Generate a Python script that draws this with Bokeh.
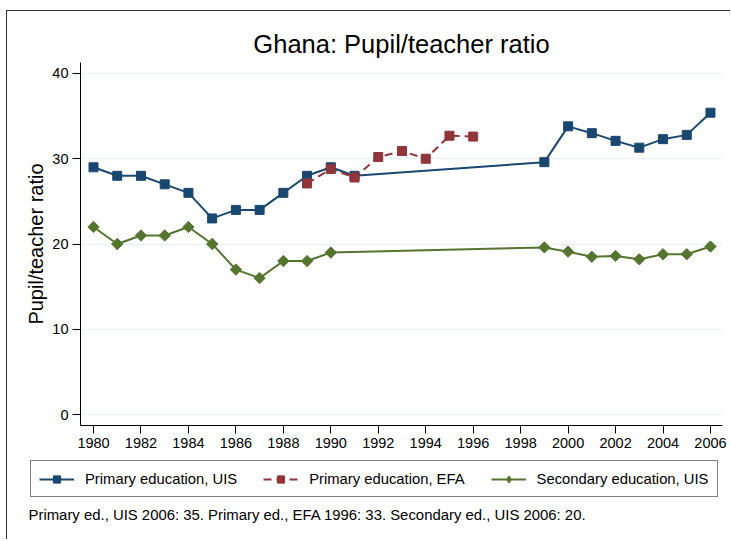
import numpy as np
from bokeh.plotting import figure
from bokeh.models import Range1d, FixedTicker, Legend, LegendItem, Label
from bokeh.embed import file_html
from bokeh.resources import INLINE

# ---- data ----
years_uis = [1980, 1981, 1982, 1983, 1984, 1985, 1986, 1987, 1988, 1989, 1990, 1991,
             1999, 2000, 2001, 2002, 2003, 2004, 2005, 2006]
primary_uis = [29, 28, 28, 27, 26, 23, 24, 24, 26, 28, 29, 28,
               29.6, 33.8, 33.0, 32.1, 31.3, 32.3, 32.8, 35.4]

years_efa = [1989, 1990, 1991, 1992, 1993, 1994, 1995, 1996]
primary_efa = [27.1, 28.8, 27.8, 30.2, 30.9, 30.0, 32.7, 32.6]

years_sec = [1980, 1981, 1982, 1983, 1984, 1985, 1986, 1987, 1988, 1989, 1990,
             1999, 2000, 2001, 2002, 2003, 2004, 2005, 2006]
secondary_uis = [22, 20, 21, 21, 22, 20, 17, 16, 18, 18, 19,
                 19.6, 19.1, 18.5, 18.6, 18.2, 18.8, 18.8, 19.7]

x_ticks = list(range(1980, 2007, 2))
y_ticks = [0, 10, 20, 30, 40]

series_labels = ["Primary education, UIS", "Primary education, EFA", "Secondary education, UIS"]
title_text = "Ghana: Pupil/teacher ratio"
y_label = "Pupil/teacher ratio"
note_text = "Primary ed., UIS 2006: 35. Primary ed., EFA 1996: 33. Secondary ed., UIS 2006: 20."

FONT = "Liberation Sans"
BLUE = "#1a476f"
RED = "#90353b"
GREEN = "#55752f"
BORDER = "1px solid #333333"

# ---- main chart ----
p = figure(width=724, height=447, output_backend="svg", toolbar_location=None,
           x_range=Range1d(1979.452, 2006.506), y_range=Range1d(-1.29, 41.29),
           min_border_left=73, min_border_right=9, min_border_top=51, min_border_bottom=33,
           background_fill_color="white", border_fill_color="white")
p.outline_line_color = None
p.styles = {"margin-left": "6px", "margin-top": "10px",
            "border-left": BORDER, "border-top": BORDER}

p.title.text = title_text
p.title.align = "center"
p.title.text_font = FONT
p.title.text_font_size = "25.5px"
p.title.text_font_style = "normal"
p.title.text_color = "#000000"
p.title.standoff = 10

p.xaxis.ticker = FixedTicker(ticks=x_ticks)
p.yaxis.ticker = FixedTicker(ticks=y_ticks)
for ax in (p.xaxis[0], p.yaxis[0]):
    ax.axis_line_color = "#000000"
    ax.axis_line_width = 1
    ax.major_tick_line_color = "#000000"
    ax.major_tick_in = 0
    ax.major_tick_out = 8
    ax.minor_tick_line_color = None
    ax.major_label_text_font = FONT
    ax.major_label_text_font_size = "14.5px"
    ax.major_label_text_color = "#000000"
    ax.major_label_standoff = 4
p.yaxis.axis_label = y_label
p.yaxis.axis_label_text_font = FONT
p.yaxis.axis_label_text_font_size = "20px"
p.yaxis.axis_label_text_font_style = "normal"
p.yaxis.axis_label_text_color = "#000000"
p.yaxis.axis_label_standoff = 2
p.yaxis.major_label_orientation = "horizontal"

p.xgrid.grid_line_color = None
p.ygrid.grid_line_color = "#eaf2f3"
p.ygrid.grid_line_width = 1.5

p.line(years_uis, primary_uis, line_color=BLUE, line_width=2)
p.scatter(years_uis, primary_uis, marker="square", size=9, fill_color=BLUE, line_color=BLUE)
p.line(years_efa, primary_efa, line_color=RED, line_width=2, line_dash="8 5")
p.scatter(years_efa, primary_efa, marker="square", size=9, fill_color=RED, line_color=RED)
p.line(years_sec, secondary_uis, line_color=GREEN, line_width=2)
p.scatter(years_sec, secondary_uis, marker="square", angle=np.pi / 4, size=8,
          fill_color=GREEN, line_color=GREEN)

# ---- legend + note strip (separate root, frame = whole canvas) ----
q = figure(width=724, height=82, output_backend="svg", toolbar_location=None,
           x_axis_type=None, y_axis_type=None,
           x_range=Range1d(0, 1), y_range=Range1d(0, 1),
           min_border_left=0, min_border_right=0, min_border_top=0, min_border_bottom=0,
           background_fill_color="white", border_fill_color="white")
q.outline_line_color = None
q.grid.visible = False
q.styles = {"margin-left": "6px", "border-left": BORDER}

# legend key renderers (same series; the strip's ranges keep them out of view)
kl1 = q.line(years_uis, primary_uis, line_color=BLUE, line_width=2)
ks1 = q.scatter(years_uis, primary_uis, marker="square", size=9, fill_color=BLUE, line_color=BLUE)
kl2 = q.line(years_efa, primary_efa, line_color=RED, line_width=2, line_dash="8 5")
ks2 = q.scatter(years_efa, primary_efa, marker="square", size=9, fill_color=RED, line_color=RED)
kl3 = q.line(years_sec, secondary_uis, line_color=GREEN, line_width=2)
ks3 = q.scatter(years_sec, secondary_uis, marker="diamond", size=9,
                fill_color=GREEN, line_color=GREEN)

legend = Legend(items=[LegendItem(label=series_labels[0], renderers=[kl1, ks1]),
                       LegendItem(label=series_labels[1], renderers=[kl2, ks2]),
                       LegendItem(label=series_labels[2], renderers=[kl3, ks3])],
                location=(23, 42), orientation="horizontal",
                label_text_font=FONT, label_text_font_size="14.8px", label_text_color="#000000",
                glyph_width=35, glyph_height=18, label_height=19, label_standoff=11,
                spacing=26, padding=8, margin=0,
                border_line_color="#000000", border_line_width=1,
                background_fill_color="white", background_fill_alpha=1)
q.add_layout(legend, "center")

q.add_layout(Label(x=21, y=25, x_units="screen", y_units="screen", text=note_text,
                   text_align="left", text_baseline="middle",
                   text_font=FONT, text_font_size="14.9px", text_color="#000000"))

open("out.html", "w").write(file_html([p, q], INLINE))
